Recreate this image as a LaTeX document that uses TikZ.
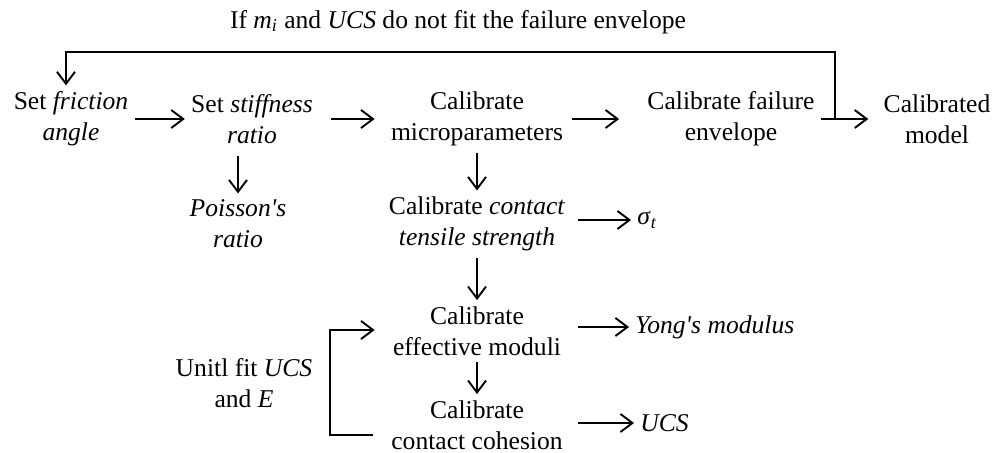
\documentclass[tikz,border=0pt]{standalone}
\usepackage{fontspec}
\setmainfont{Liberation Serif}
\usetikzlibrary{arrows.meta, positioning, calc}

\begin{document}
\begin{tikzpicture}[
  x=0.5pt, y=-0.5pt,
  txt/.style={align=center, inner sep=3pt, font=\fontsize{12.8}{15.5}\selectfont},
  mid/.style={txt, minimum width=95pt},
  side/.style={txt, anchor=west},
  arr/.style={-{Straight Barb[length=6pt, width=9pt]}, line width=0.95pt}
]
  \useasboundingbox (0,0) rectangle (1005,453);

  % Main row
  \node[txt] (fric) at (71,119) {Set \textit{friction}\\\textit{angle}};
  \node[txt] (stiff) at (252,119) {Set \textit{stiffness}\\\textit{ratio}};
  \node[mid] (micro) at (477,119) {Calibrate\\microparameters};
  \node[txt] (envl) at (731,119) {Calibrate failure\\envelope};
  \node[txt] (model) at (937,119) {Calibrated\\model};

  % Calibration column
  \node[txt] (poisson) at (238,224) {\textit{Poisson\textquotesingle s}\\\textit{ratio}};
  \node[mid] (tensile) at (477,224) {Calibrate \textit{contact}\\\textit{tensile strength}};
  \node[mid] (moduli) at (477,331) {Calibrate\\effective moduli};
  \node[mid] (cohesion) at (477,425) {Calibrate\\contact cohesion};

  % Outputs
  \node[side] (sigma) at (631,220) {\textit{σ}\textsubscript{\textit{t}}};
  \node[side] (young) at (629,327) {\textit{Yong\textquotesingle s modulus}};
  \node[side] (ucs) at (634,423) {\textit{UCS}};

  % Loop labels
  \node[txt] (until) at (244,383) {Unitl fit \textit{UCS}\\and \textit{E}};
  \node[txt] (cond) at (458,22) {If \textit{m}\textsubscript{\textit{i}} and \textit{UCS} do not fit the failure envelope};

  % Main flow
  \draw[arr] (fric) -- (stiff);
  \draw[arr] ($(stiff.east)+(12,0)$) -- ($(micro.west)+(-7,0)$);
  \draw[arr] (micro) -- ($(envl.west)+(-22,0)$);
  \draw[arr] (envl) -- ($(model.west)+(-9,0)$);

  % Downward steps
  \draw[arr] ($(stiff.south -| poisson)+(0,6)$) -- (poisson);
  \draw[arr] (micro) -- (tensile);
  \draw[arr] (tensile) -- (moduli);
  \draw[arr] (moduli) -- (cohesion);

  % Results
  \draw[arr] ($(tensile.east |- sigma)+(6,0)$) -- (sigma);
  \draw[arr] ($(moduli.east |- young)+(6,0)$) -- (young);
  \draw[arr] ($(cohesion.east |- ucs)+(6,0)$) -- (ucs);

  % Feedback loops
  \coordinate (split) at ($(envl.east)+(14,0)$);
  \coordinate (fbtop) at (0,52);
  \draw[arr] (split) -- (split |- fbtop) -| ($(fric.north)+(-5,0)$);
  \draw[arr] ($(cohesion.west)+(-9,10)$) -- ++(-43,0) |- ($(moduli.west)+(-7,-1)$);
\end{tikzpicture}
\end{document}
